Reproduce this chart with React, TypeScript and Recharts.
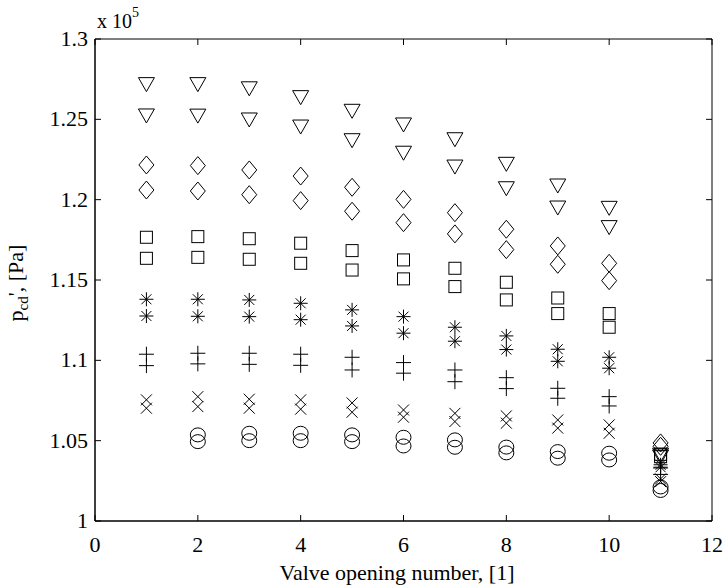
import React from "react"
import { ScatterChart, Scatter, XAxis, YAxis } from "recharts"

// valve opening number (x) and the two measured p_cd values per marker type, in 1e5 Pa
const valves = [1, 2, 3, 4, 5, 6, 7, 8, 9, 10, 11]

const triHi = [1.2716, 1.2716, 1.269, 1.2635, 1.255, 1.2465, 1.2373, 1.222, 1.2085, 1.1946, 1.041]
const triLo = [1.2521, 1.252, 1.2496, 1.2452, 1.2367, 1.2289, 1.2203, 1.2068, 1.1948, 1.1826, 1.0398]

const diaHi = [1.2216, 1.2212, 1.2185, 1.2147, 1.2077, 1.2002, 1.1919, 1.1816, 1.1712, 1.1604, 1.0486]
const diaLo = [1.206, 1.2054, 1.2031, 1.1994, 1.1928, 1.1857, 1.1787, 1.1689, 1.1598, 1.1496, 1.0465]

const sqHi = [1.1766, 1.177, 1.1757, 1.1729, 1.1683, 1.1625, 1.1573, 1.1486, 1.1388, 1.1291, 1.0415]
const sqLo = [1.1635, 1.1641, 1.1629, 1.1604, 1.1562, 1.1507, 1.1459, 1.1376, 1.1291, 1.1206, 1.04]

const astHi = [1.138, 1.138, 1.1376, 1.1355, 1.1314, 1.1272, 1.1206, 1.1152, 1.1069, 1.1019, 1.035]
const astLo = [1.1276, 1.1274, 1.1272, 1.1253, 1.1214, 1.1169, 1.1119, 1.1067, 1.0994, 1.0951, 1.0335]

const plusHi = [1.1038, 1.1044, 1.1044, 1.1038, 1.1019, 1.0986, 1.094, 1.0892, 1.0826, 1.0774, 1.033]
const plusLo = [1.0967, 1.0978, 1.0975, 1.0969, 1.094, 1.092, 1.0867, 1.0824, 1.0764, 1.0716, 1.029]

const xHi = [1.0754, 1.0774, 1.0758, 1.0754, 1.0735, 1.0691, 1.067, 1.0654, 1.0629, 1.0598, 1.0262]
const xLo = [1.0702, 1.0712, 1.0702, 1.0696, 1.0677, 1.0646, 1.0619, 1.0609, 1.0578, 1.0546, 1.0245]

const circHi = [null, 1.0536, 1.0546, 1.0546, 1.0536, 1.0521, 1.0505, 1.046, 1.0432, 1.0422, 1.0212]
const circLo = [null, 1.0494, 1.05, 1.05, 1.0494, 1.0467, 1.0459, 1.0424, 1.0391, 1.038, 1.019]

const xTicks = [0, 2, 4, 6, 8, 10, 12]
const yTicks = [1, 1.05, 1.1, 1.15, 1.2, 1.25, 1.3]
const X_MIN = 0
const X_MAX = 12
const Y_MIN = 1
const Y_MAX = 1.3

const FONT = "Liberation Serif"
const INK = "#000"
const TICK_LEN = 6

type Pt = { x: number; y: number }

function toPoints(vals: (number | null)[]): Pt[] {
  return valves
    .map((v, i) => ({ x: v, y: vals[i] }))
    .filter((p): p is Pt => p.y != null)
}

// box around the axes, drawn as a closed scatter line through the domain corners
const boxPts: Pt[] = [
  { x: X_MIN, y: Y_MIN },
  { x: X_MAX, y: Y_MIN },
  { x: X_MAX, y: Y_MAX },
  { x: X_MIN, y: Y_MAX },
  { x: X_MIN, y: Y_MIN },
]
const bottomTickPts = xTicks.map((t) => ({ x: t, y: Y_MIN }))
const topTickPts = xTicks.map((t) => ({ x: t, y: Y_MAX }))
const leftTickPts = yTicks.map((t) => ({ x: X_MIN, y: t }))
const rightTickPts = yTicks.map((t) => ({ x: X_MAX, y: t }))

function TriDown({ cx, cy }: any) {
  return <path d={`M${cx - 8},${cy - 7}L${cx + 8},${cy - 7}L${cx},${cy + 7}Z`} stroke={INK} fill="none" />
}
function Diamond({ cx, cy }: any) {
  return <path d={`M${cx},${cy - 9}L${cx + 7.5},${cy}L${cx},${cy + 9}L${cx - 7.5},${cy}Z`} stroke={INK} fill="none" />
}
function Square({ cx, cy }: any) {
  return <rect x={cx - 6} y={cy - 6} width={12} height={12} stroke={INK} fill="none" />
}
function Asterisk({ cx, cy }: any) {
  const r = 7
  const d = 5
  return (
    <path
      d={`M${cx - r},${cy}L${cx + r},${cy}M${cx},${cy - r}L${cx},${cy + r}M${cx - d},${cy - d}L${cx + d},${cy + d}M${cx - d},${cy + d}L${cx + d},${cy - d}`}
      stroke={INK}
      fill="none"
    />
  )
}
function Plus({ cx, cy }: any) {
  const r = 7.5
  return <path d={`M${cx - r},${cy}L${cx + r},${cy}M${cx},${cy - r}L${cx},${cy + r}`} stroke={INK} fill="none" />
}
function Cross({ cx, cy }: any) {
  const r = 5.5
  return <path d={`M${cx - r},${cy - r}L${cx + r},${cy + r}M${cx - r},${cy + r}L${cx + r},${cy - r}`} stroke={INK} fill="none" />
}
function Ring({ cx, cy }: any) {
  return <ellipse cx={cx} cy={cy} rx={7.5} ry={7} stroke={INK} fill="none" />
}

// inward tick marks, one per tick value, drawn from the scaled point
function tickMark(dx: number, dy: number) {
  return (p: any) => (
    <path d={`M${p.cx},${p.cy}L${p.cx + dx},${p.cy + dy}`} stroke={INK} strokeWidth={1} fill="none" />
  )
}

const series = [
  { name: "tri1", vals: triHi, shape: TriDown },
  { name: "tri2", vals: triLo, shape: TriDown },
  { name: "dia1", vals: diaHi, shape: Diamond },
  { name: "dia2", vals: diaLo, shape: Diamond },
  { name: "sq1", vals: sqHi, shape: Square },
  { name: "sq2", vals: sqLo, shape: Square },
  { name: "ast1", vals: astHi, shape: Asterisk },
  { name: "ast2", vals: astLo, shape: Asterisk },
  { name: "plus1", vals: plusHi, shape: Plus },
  { name: "plus2", vals: plusLo, shape: Plus },
  { name: "cross1", vals: xHi, shape: Cross },
  { name: "cross2", vals: xLo, shape: Cross },
  { name: "ring1", vals: circHi, shape: Ring },
  { name: "ring2", vals: circLo, shape: Ring },
]

function BottomLabel({ x, y, payload }: any) {
  return (
    <text x={x} y={y + 31} textAnchor="middle" fill={INK} fontSize={22} fontFamily={FONT}>
      {payload.value}
    </text>
  )
}
function LeftLabel({ x, y, payload }: any) {
  return (
    <text x={x - 7} y={y + 7} textAnchor="end" fill={INK} fontSize={22} fontFamily={FONT}>
      {payload.value}
    </text>
  )
}

const layer: React.CSSProperties = { position: "absolute", left: 0, top: 0 }

export default function App() {
  return (
    <div style={{ ...layer, width: 724, height: 588, background: "#fff" }}>
      <ScatterChart width={724} height={588} margin={{ top: 39, right: 12, bottom: 0, left: 0 }}>
        <XAxis
          type="number"
          dataKey="x"
          domain={[X_MIN, X_MAX]}
          ticks={xTicks}
          height={67}
          axisLine={{ stroke: INK, strokeWidth: 1 }}
          tickLine={false}
          tickSize={0}
          tickMargin={0}
          tick={<BottomLabel />}
        />
        <YAxis
          type="number"
          dataKey="y"
          domain={[Y_MIN, Y_MAX]}
          ticks={yTicks}
          width={95}
          axisLine={{ stroke: INK, strokeWidth: 1 }}
          tickLine={false}
          tickSize={0}
          tickMargin={0}
          tick={<LeftLabel />}
        />
        <Scatter
          name="box"
          data={boxPts}
          isAnimationActive={false}
          line={{ stroke: INK, strokeWidth: 1 }}
          lineType="joint"
          shape={() => <g />}
        />
        <Scatter name="tick-b" data={bottomTickPts} isAnimationActive={false} shape={tickMark(0, -TICK_LEN)} />
        <Scatter name="tick-t" data={topTickPts} isAnimationActive={false} shape={tickMark(0, TICK_LEN)} />
        <Scatter name="tick-l" data={leftTickPts} isAnimationActive={false} shape={tickMark(TICK_LEN, 0)} />
        <Scatter name="tick-r" data={rightTickPts} isAnimationActive={false} shape={tickMark(-TICK_LEN, 0)} />
        {series.map((s) => {
          const Shape = s.shape
          return (
            <Scatter
              key={s.name}
              name={s.name}
              data={toPoints(s.vals)}
              isAnimationActive={false}
              shape={(p: any) => <Shape cx={p.cx} cy={p.cy} />}
            />
          )
        })}
      </ScatterChart>

      <svg width={724} height={588} style={{ ...layer, pointerEvents: "none" }}>
        <text x={97} y={28} fill={INK} fontSize={20} fontFamily={FONT}>
          x 10
          <tspan fontSize={14} dy={-11}>5</tspan>
        </text>
        <text x={397} y={580} textAnchor="middle" fill={INK} fontSize={22} fontFamily={FONT}>
          Valve opening number, [1]
        </text>
        <text
          x={23}
          y={283}
          transform="rotate(-90, 23, 283)"
          textAnchor="middle"
          fill={INK}
          fontSize={22}
          fontFamily={FONT}
        >
          p
          <tspan fontSize={15} dy={5}>cd</tspan>
          <tspan dy={-5}>', [Pa]</tspan>
        </text>
      </svg>
    </div>
  )
}
